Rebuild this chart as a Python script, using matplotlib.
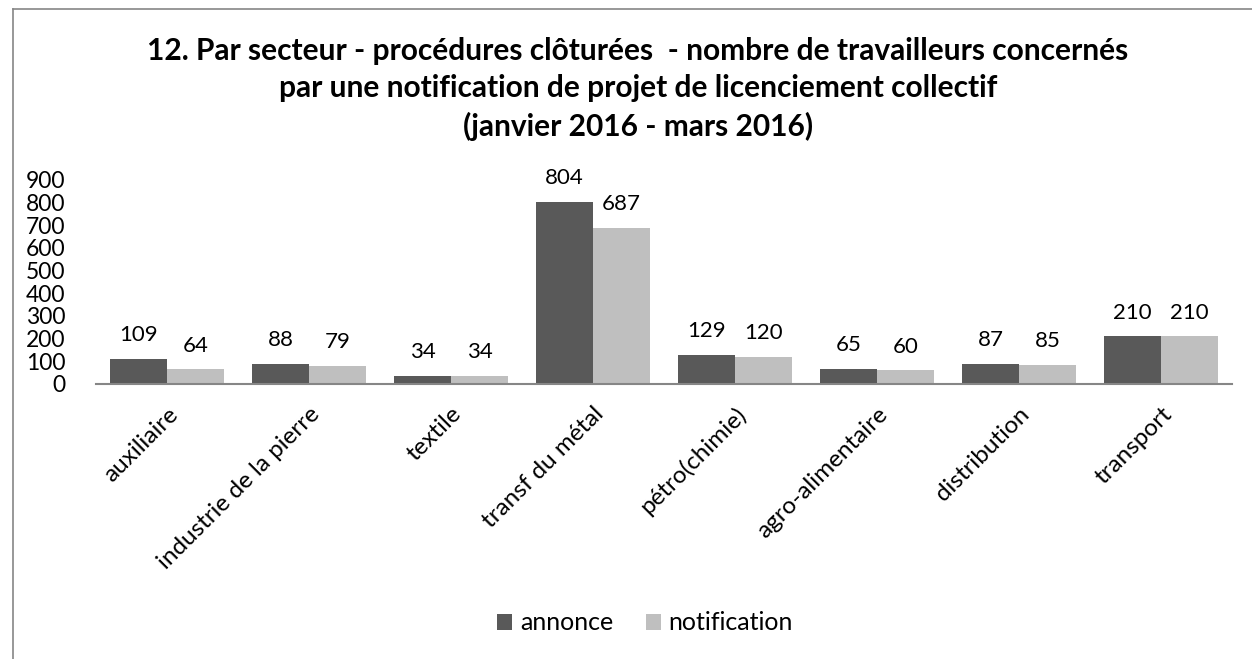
import matplotlib
matplotlib.use("Agg")
import matplotlib.pyplot as plt
import numpy as np

categories = ["auxiliaire", "industrie de la pierre", "textile", "transf du métal",
              "pétro(chimie)", "agro-alimentaire", "distribution", "transport"]
annonce = [109, 88, 34, 804, 129, 65, 87, 210]
notification = [64, 79, 34, 687, 120, 60, 85, 210]
yticks = [0, 100, 200, 300, 400, 500, 600, 700, 800, 900]
title = ("12. Par secteur - procédures clôturées  - nombre de travailleurs concernés\n"
         "par une notification de projet de licenciement collectif\n"
         "(janvier 2016 - mars 2016)")

plt.rcParams['font.family'] = ['Lato', 'DejaVu Sans']

W, H = 1252, 659
fig = plt.figure(figsize=(W / 100, H / 100), dpi=100)
# outer chart border
fig.add_artist(plt.Line2D([13 / W, 13 / W], [0, 1 - 9 / H], transform=fig.transFigure,
                          color="#868686", lw=1.2))
fig.add_artist(plt.Line2D([13 / W, 1], [1 - 9 / H, 1 - 9 / H], transform=fig.transFigure,
                          color="#868686", lw=1.2))

left, right = 96 / W, 1232 / W
bottom, top = 1 - 384 / H, 1 - 180 / H
ax = fig.add_axes([left, bottom, right - left, top - bottom])

x = np.arange(len(categories))
bw = 0.4
c1, c2 = "#595959", "#BFBFBF"
b1 = ax.bar(x - bw / 2, annonce, bw, color=c1, label="annonce")
b2 = ax.bar(x + bw / 2, notification, bw, color=c2, label="notification")

for bars, vals in ((b1, annonce), (b2, notification)):
    for rect, v in zip(bars, vals):
        ax.annotate(str(v), (rect.get_x() + rect.get_width() / 2, v),
                    xytext=(0, 10), textcoords="offset points",
                    ha="center", va="bottom", fontsize=16, color="#000000")

ax.set_xlim(-0.5, len(categories) - 0.5)
ax.set_ylim(0, 900)
ax.set_yticks(yticks)
ax.set_yticklabels([str(t) for t in yticks], fontsize=16.5)
ax.set_xticks(x)
ax.set_xticklabels(categories, rotation=45, ha="right", rotation_mode="anchor", fontsize=17.5)
ax.tick_params(axis="both", length=0, pad=14)
ax.tick_params(axis="y", pad=22)
for s in ("top", "right", "left"):
    ax.spines[s].set_visible(False)
ax.spines["bottom"].set_color("#868686")
ax.spines["bottom"].set_linewidth(1.5)

fig.text(0.5 + 12 / W, 1 - 89 / H, title, ha="center", va="center", fontsize=21.5,
         fontweight="bold", linespacing=1.38)

fig.legend(handles=[b1, b2], labels=["annonce", "notification"], loc="center",
           bbox_to_anchor=(645 / W, 1 - 623 / H), ncol=2, frameon=False, fontsize=18,
           handlelength=0.6, handleheight=0.6, handletextpad=0.3, columnspacing=1.3)

fig.savefig("out.png", dpi=100)
